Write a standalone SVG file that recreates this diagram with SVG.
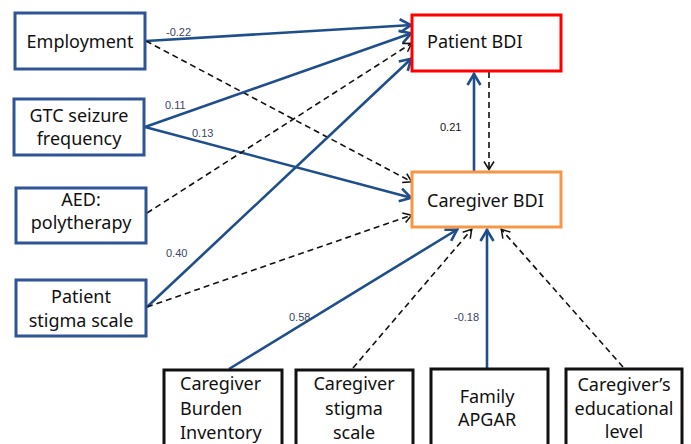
<svg xmlns="http://www.w3.org/2000/svg" width="691" height="444" viewBox="0 0 691 444">
<style>
.box{fill:#fff;stroke-width:3}
.bl{stroke:#2F5597}
.bk{stroke:#111}
.t{font-family:"Noto Sans","Liberation Sans",sans-serif;font-size:18px;fill:#111}
.lab{font-family:"Liberation Sans",Arial,sans-serif;font-size:11px;fill:#3a4466}
.sol{fill:none;stroke:#1F4E8C;stroke-width:2.6}
.das{fill:none;stroke:#111;stroke-width:1.6;stroke-dasharray:6,4}
</style>
<defs>
<marker id="ab" markerUnits="userSpaceOnUse" markerWidth="20" markerHeight="20" refX="1" refY="0" viewBox="-14 -10 20 20" orient="auto">
<path d="M-11,-6.5 L0,0 L-11,6.5" fill="none" stroke="#1F4E8C" stroke-width="2.6" stroke-linejoin="miter"/>
</marker>
<marker id="ak" markerUnits="userSpaceOnUse" markerWidth="20" markerHeight="20" refX="0.5" refY="0" viewBox="-14 -10 20 20" orient="auto">
<path d="M-8,-5 L0,0 L-8,5" fill="none" stroke="#111" stroke-width="1.5"/>
</marker>
</defs>
<rect width="691" height="444" fill="#fff"/>
<g id="connectors">
<path class="sol" d="M146,41 L412,25" marker-end="url(#ab)"/>
<path class="das" d="M146,41 L412,182" marker-end="url(#ak)"/>
<path class="sol" d="M145,127 L412,33" marker-end="url(#ab)"/>
<path class="sol" d="M145,127 L412,198" marker-end="url(#ab)"/>
<path class="das" d="M147,213 L412,43" marker-end="url(#ak)"/>
<path class="sol" d="M147,307 L412,58" marker-end="url(#ab)"/>
<path class="das" d="M147,307 L412,215" marker-end="url(#ak)"/>
<path class="sol" d="M474,172 L474,73" marker-end="url(#ab)"/>
<path class="das" d="M489,72 L489,170" marker-end="url(#ak)"/>
<path class="sol" d="M229,369 L458,229" marker-end="url(#ab)"/>
<path class="das" d="M353,368 L472,229" marker-end="url(#ak)"/>
<path class="sol" d="M487,369 L487,229" marker-end="url(#ab)"/>
<path class="das" d="M623,367 L501,229" marker-end="url(#ak)"/>
<text class="lab" x="166" y="36">-0.22</text>
<text class="lab" x="165" y="109">0.11</text>
<text class="lab" x="192" y="137">0.13</text>
<text class="lab" x="166" y="257">0.40</text>
<text class="lab" x="289" y="321">0.58</text>
<text class="lab" x="440" y="131" style="fill:#111">0.21</text>
<text class="lab" x="454" y="321">-0.18</text>
</g>
<g id="employment">
<rect class="box bl" x="15" y="13" width="130" height="56"/>
<text class="t" x="80" y="48" text-anchor="middle">Employment</text>
</g>
<g id="gtc">
<rect class="box bl" x="14" y="99" width="130" height="56"/>
<text class="t" x="79" y="122" text-anchor="middle">GTC seizure</text>
<text class="t" x="79" y="145" text-anchor="middle">frequency</text>
</g>
<g id="aed">
<rect class="box bl" x="16" y="188" width="130" height="55"/>
<text class="t" x="81" y="206" text-anchor="middle">AED:</text>
<text class="t" x="81" y="229" text-anchor="middle">polytherapy</text>
</g>
<g id="patient-stigma">
<rect class="box bl" x="16" y="280" width="130" height="56"/>
<text class="t" x="81" y="303" text-anchor="middle">Patient</text>
<text class="t" x="81" y="327" text-anchor="middle">stigma scale</text>
</g>
<g id="patient-bdi">
<rect class="box" x="412" y="15" width="149" height="56" stroke="#FF0000"/>
<text class="t" x="427" y="48">Patient BDI</text>
</g>
<g id="caregiver-bdi">
<rect class="box" x="412" y="172" width="149" height="55" stroke="#F79646"/>
<text class="t" x="427" y="207">Caregiver BDI</text>
</g>
<g id="burden">
<rect class="box bk" x="164" y="370" width="118" height="80"/>
<text class="t" x="180" y="390">Caregiver</text>
<text class="t" x="180" y="415">Burden</text>
<text class="t" x="180" y="439">Inventory</text>
</g>
<g id="caregiver-stigma">
<rect class="box bk" x="296" y="370" width="117" height="80"/>
<text class="t" x="354" y="390" text-anchor="middle">Caregiver</text>
<text class="t" x="354" y="415" text-anchor="middle">stigma</text>
<text class="t" x="354" y="439" text-anchor="middle">scale</text>
</g>
<g id="apgar">
<rect class="box bk" x="431" y="369" width="117" height="80"/>
<text class="t" x="487" y="403" text-anchor="middle">Family</text>
<text class="t" x="487" y="426" text-anchor="middle">APGAR</text>
</g>
<g id="education">
<rect class="box bk" x="566" y="369" width="116" height="80"/>
<text class="t" x="624" y="391" text-anchor="middle">Caregiver’s</text>
<text class="t" x="624" y="415" text-anchor="middle">educational</text>
<text class="t" x="624" y="438" text-anchor="middle">level</text>
</g>
</svg>
